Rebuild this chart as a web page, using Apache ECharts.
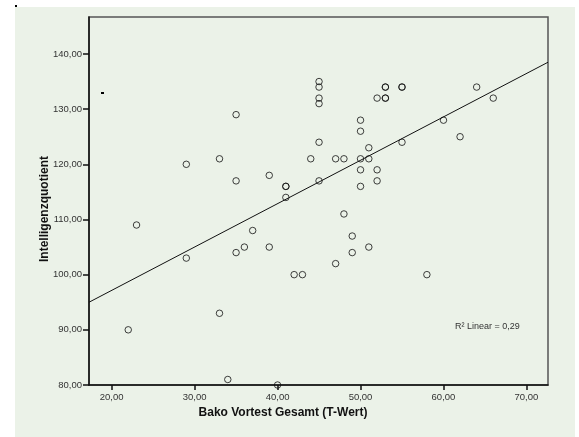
<!DOCTYPE html>
<html>
<head>
<meta charset="utf-8">
<script src="https://cdn.jsdelivr.net/npm/echarts@6/dist/echarts.min.js"></script>
<style>html,body{margin:0;padding:0;background:#fff;}#c{width:579px;height:437px;}</style>
</head>
<body>
<div id="c"></div>
<script>
// Bako Vortest Gesamt (T-Wert) vs. Intelligenzquotient
const xValues = [45,45,45,45,53,53,55,55,52,53,53,64,66,35,50,60,50,62,45,55,51,29,33,44,47,48,50,51,50,52,35,39,45,52,41,41,50,41,48,23,37,49,36,39,51,29,35,49,42,43,47,58,33,22,34,40];
const yValues = [135,134,132,131,134,134,134,134,132,132,132,134,132,129,128,128,126,125,124,124,123,120,121,121,121,121,121,121,119,119,117,118,117,117,116,116,116,114,111,109,108,107,105,105,105,103,104,104,100,100,102,100,93,90,81,80];
const xTicks = [20,30,40,50,60,70];
const yTicks = [80,90,100,110,120,130,140];
const fitLine = [[17.27,95.0],[72.6,138.5]];
const r2Text = 'R² Linear = 0,29';
const xName = 'Bako Vortest Gesamt (T-Wert)';
const yName = 'Intelligenzquotient';

const points = xValues.map((x,i)=>[x,yValues[i]]);
const fmt = v => v.toFixed(2).replace('.', ',');
const chart = echarts.init(document.getElementById('c'), null, {renderer:'canvas'});
chart.setOption({
  animation:false,
  backgroundColor:'#ffffff',
  graphic:[
    {type:'rect', z:-10, silent:true, shape:{x:15,y:7,width:560,height:430}, style:{fill:'#ebf2e8'}},
    {type:'rect', z:10, shape:{x:15,y:5,width:2,height:2}, style:{fill:'#000'}},
    {type:'rect', z:10, shape:{x:101,y:92,width:3,height:2}, style:{fill:'#000'}},
    {type:'text', z:10, style:{text:xName, x:283, y:413, align:'center', verticalAlign:'middle', font:'bold 12px "Liberation Sans", Arial, sans-serif', fill:'#111'}},
    {type:'text', z:10, rotation:Math.PI/2, x:45, y:209, style:{text:yName, x:0, y:0, align:'center', verticalAlign:'middle', font:'bold 12px "Liberation Sans", Arial, sans-serif', fill:'#111'}},
    {type:'text', z:10, style:{text:r2Text, x:455, y:327, align:'left', verticalAlign:'middle', font:'9px "Liberation Sans", Arial, sans-serif', fill:'#333'}}
  ],
  grid:{left:89, right:31, top:17, bottom:52, show:true, borderColor:'#555', borderWidth:1.5, backgroundColor:'transparent'},
  xAxis:{
    type:'value', min:17.27, max:72.6,
    axisLine:{show:true, onZero:false, lineStyle:{color:'#111', width:1.5}},
    axisTick:{show:true, customValues:xTicks, length:5, lineStyle:{color:'#111', width:1.5}},
    axisLabel:{customValues:xTicks, formatter:fmt, color:'#333', fontSize:9.5, margin:7, fontFamily:'"Liberation Sans", Arial, sans-serif'},
    splitLine:{show:false}
  },
  yAxis:{
    type:'value', min:80, max:146.7,
    axisLine:{show:true, onZero:false, lineStyle:{color:'#111', width:1.5}},
    axisTick:{show:true, customValues:yTicks, length:6, lineStyle:{color:'#111', width:1.5}},
    axisLabel:{customValues:yTicks, formatter:fmt, color:'#333', fontSize:9.5, margin:7, fontFamily:'"Liberation Sans", Arial, sans-serif'},
    splitLine:{show:false}
  },
  series:[
    {type:'line', data:fitLine, showSymbol:false, symbol:'none', lineStyle:{color:'#111', width:1}, silent:true, z:2},
    {type:'scatter', data:points, symbol:'circle', symbolSize:6.5,
     itemStyle:{color:'transparent', borderColor:'#111', borderWidth:1}, z:3}
  ]
});
</script>
</body>
</html>
